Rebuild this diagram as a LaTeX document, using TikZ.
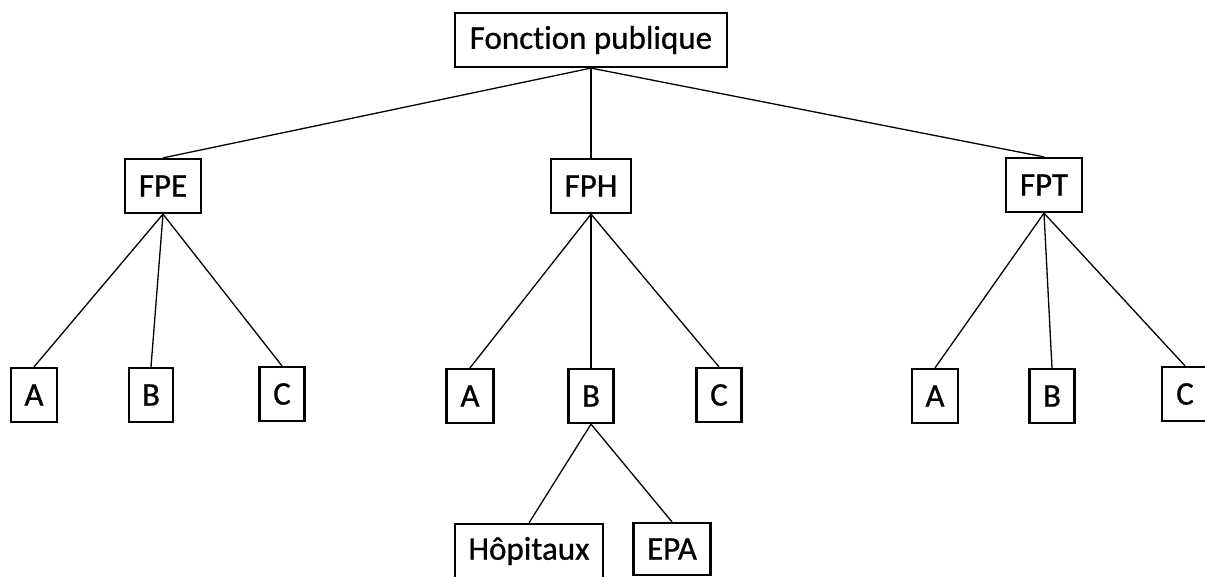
\documentclass[tikz,border=0pt]{standalone}
\usepackage{fontspec}
\setmainfont[Ligatures=NoCommon, FakeBold=0.8]{Carlito}
\tikzset{
  box/.style={draw, line width=2.2pt, inner sep=0pt, minimum height=54pt,
    font=\fontsize{33}{38}\selectfont},
  wide/.style={box, minimum width=#1},
  link/.style={line width=1.3pt}
}
\begin{document}
\begin{tikzpicture}[x=1pt,y=-1pt]
      \useasboundingbox (0,0) rectangle (1205,576);
      \draw
        (591,40) node[wide=272pt] (fp){Fonction publique}
        (163,186) node[wide=76pt] (fpe){FPE}
        (591,186) node[wide=80pt] (fph){FPH}
        (1044,185) node[wide=76pt] (fpt){FPT}
        (34,395) node[wide=46pt] (fpeA){A}
        (151,395) node[wide=44pt] (fpeB){B}
        (282,394) node[wide=45pt] (fpeC){C}
        (470,396) node[wide=47pt] (fphA){A}
        (591,396) node[wide=45pt] (fphB){B}
        (719,395) node[wide=45pt] (fphC){C}
        (935,396) node[wide=46pt] (fptA){A}
        (1052,396) node[wide=45pt] (fptB){B}
        (1185,394) node[wide=46pt] (fptC){C}
        (529,551) node[wide=148pt] (hop){Hôpitaux}
        (672,549) node[wide=77pt, minimum height=52pt] (epa){EPA};
      \begin{scope}[link]
        \draw (fp.south) to (fpe.north);
        \draw (fp.south) to (fph.north);
        \draw (fp.south) to (fpt.north);
        \draw (fpe.south) to (fpeA.north);
        \draw (fpe.south) to (fpeB.north);
        \draw (fpe.south) to (fpeC.north);
        \draw (fph.south) to (fphA.north);
        \draw (fph.south) to (fphB.north);
        \draw (fph.south) to (fphC.north);
        \draw (fpt.south) to (fptA.north);
        \draw (fpt.south) to (fptB.north);
        \draw (fpt.south) to (fptC.north);
        \draw (fphB.south) to (hop.north);
        \draw (fphB.south) to (epa.north);
      \end{scope}
    \end{tikzpicture}
\end{document}
